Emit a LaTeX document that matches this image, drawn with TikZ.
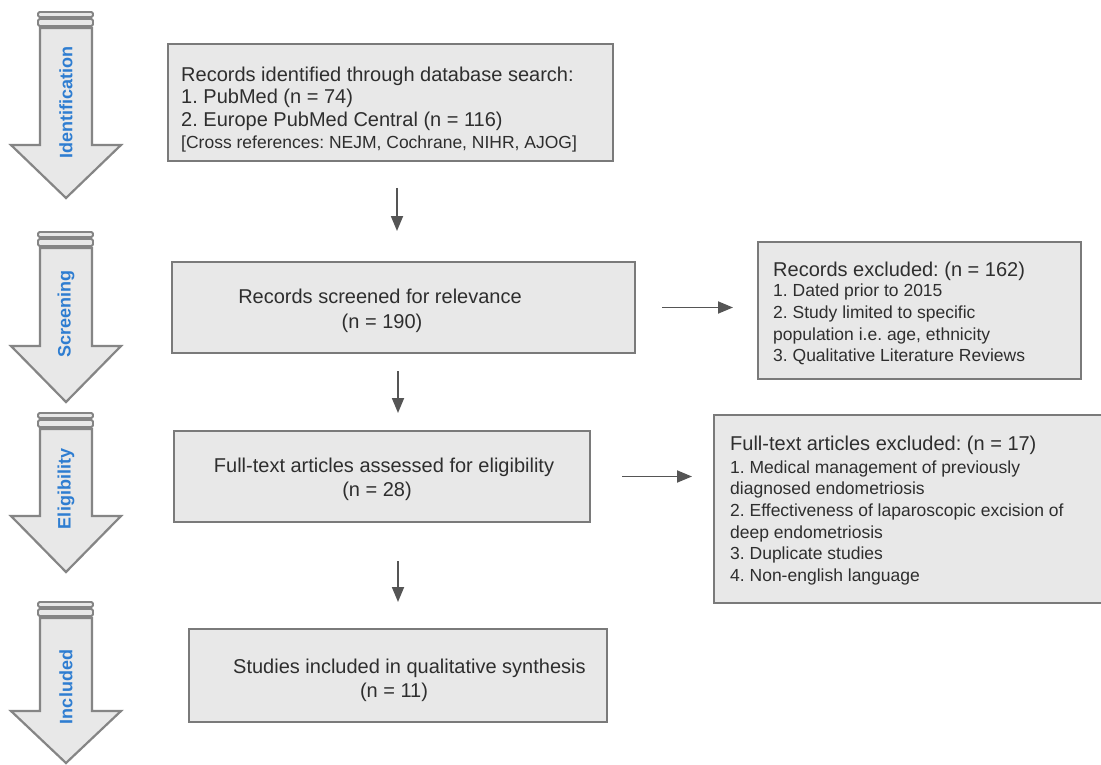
\documentclass[tikz,border=0pt]{standalone}
\usepackage{fontspec}
\setmainfont{Liberation Sans}
\usetikzlibrary{arrows.meta}
\frenchspacing
\definecolor{boxfill}{HTML}{E8E8E8}
\definecolor{boxline}{HTML}{7A7A7A}
\definecolor{txt}{HTML}{2E2E2E}
\definecolor{lblue}{HTML}{2E7DD1}
\definecolor{arrgray}{HTML}{555555}
\definecolor{sidefill}{HTML}{E8E8E8}
\definecolor{sideline}{HTML}{858585}
\newcommand{\sidearr}[6]{%
  \draw[sidebar] (38,#1) rectangle (93,#1+5);
  \draw[sidebar] (38,#1+7) rectangle (93,#1+14);
  \draw[sideshape] (40,#1+16) -- (92,#1+16) -- (92,#2) -- (121,#2) -- (66,#3)
     -- (11,#2) -- (40,#2) -- cycle;
  \node[sidelabel] (#5) at (66,#4) {#6};
}
\begin{document}
\begin{tikzpicture}[x=1pt,y=-1pt,
  box/.style={draw=boxline, fill=boxfill, line width=2pt, anchor=north west,
    inner sep=0pt},
  big/.style={text=txt, font=\fontsize{20}{23}\selectfont, inner sep=0pt},
  small/.style={text=txt, font=\fontsize{17.5}{21}\selectfont, inner sep=0pt},
  conn/.style={draw=arrgray, line width=1.8pt,
    -{Triangle[length=15pt,width=12pt]}},
  sidebar/.style={draw=sideline, fill=sidefill, line width=1.8pt, rounded corners=1.5pt},
  sideshape/.style={draw=sideline, fill=sidefill, line width=2.2pt, line join=miter},
  sidelabel/.style={text=lblue, rotate=90, inner sep=0pt,
    font=\fontsize{18}{21}\selectfont\bfseries}
]
\useasboundingbox[fill=white] (0,0) rectangle (1101,765);

% phase arrows
\sidearr{12}{145}{198}{103}{lid}{Identification}
\sidearr{232}{346}{402}{314}{lsc}{Screening}
\sidearr{413}{516}{572}{489}{lel}{Eligibility}
\sidearr{602}{711}{763}{687}{lin}{Included}

% boxes
\node[box, minimum width=445pt, minimum height=117pt] (b1) at (167,43) {};
\node[box, minimum width=463pt, minimum height=91pt] (b2) at (171,261) {};
\node[box, minimum width=323pt, minimum height=137pt] (b3) at (757,241) {};
\node[box, minimum width=416pt, minimum height=91pt] (b4) at (173,430) {};
\node[box, minimum width=400pt, minimum height=188pt] (b5) at (713,414) {};
\node[box, minimum width=418pt, minimum height=93pt] (b6) at (188,628) {};

% box 1 text
\node[big, anchor=base west] (t1a) at (181,82) {Records identified through database search:};
\node[big, anchor=base west] (t1b) at (181,104) {1. PubMed (n = 74)};
\node[big, anchor=base west] (t1c) at (181,127) {2. Europe PubMed Central (n = 116)};
\node[small, anchor=base west] (t1d) at (181,149) {[Cross references: NEJM, Cochrane, NIHR, AJOG]};

% box 2 text
\node[big, anchor=base] (t2a) at (380,303) {Records screened for relevance};
\node[big, anchor=base] (t2b) at (382,328) {(n = 190)};

% box 3 text
\node[big, anchor=base west] (t3a) at (773,276) {Records excluded: (n = 162)};
\node[small, anchor=base west] (t3b) at (773,296) {1. Dated prior to 2015};
\node[small, anchor=base west] (t3c) at (773,318) {2. Study limited to specific};
\node[small, anchor=base west] (t3d) at (773,340) {population i.e. age, ethnicity};
\node[small, anchor=base west] (t3e) at (773,361) {3. Qualitative Literature Reviews};

% box 4 text
\node[big, anchor=base] (t4a) at (384,472) {Full-text articles assessed for eligibility};
\node[big, anchor=base] (t4b) at (377,496) {(n = 28)};

% box 5 text
\node[big, anchor=base west] (t5a) at (730,450) {Full-text articles excluded: (n = 17)};
\node[small, anchor=base west] (t5b) at (730,473) {1. Medical management of previously};
\node[small, anchor=base west] (t5c) at (730,494) {diagnosed endometriosis};
\node[small, anchor=base west] (t5d) at (730,516) {2. Effectiveness of laparoscopic excision of};
\node[small, anchor=base west] (t5e) at (730,538) {deep endometriosis};
\node[small, anchor=base west] (t5f) at (730,559) {3. Duplicate studies};
\node[small, anchor=base west] (t5g) at (730,581) {4. Non-english language};

% box 6 text
\node[big, anchor=base west] (t6a) at (233,673) {Studies included in qualitative synthesis};
\node[big, anchor=base] (t6b) at (394,697) {(n = 11)};

% connectors
\draw[conn, shorten <=26pt, shorten >=30pt] (b1.south -| 397,0) -- (b2.north -| 397,0);
\draw[conn, shorten <=17pt, shorten >=17pt] (b2.south -| 398,0) -- (b4.north -| 398,0);
\draw[conn, shorten <=38pt, shorten >=26pt] (b4.south -| 398,0) -- (b6.north -| 398,0);
\draw[conn, shorten <=26pt, shorten >=24pt] (b2.east) -- (b2.east -| b3.west);
\draw[conn, shorten <=31pt, shorten >=21pt] (b4.east) -- (b4.east -| b5.west);
\end{tikzpicture}
\end{document}
